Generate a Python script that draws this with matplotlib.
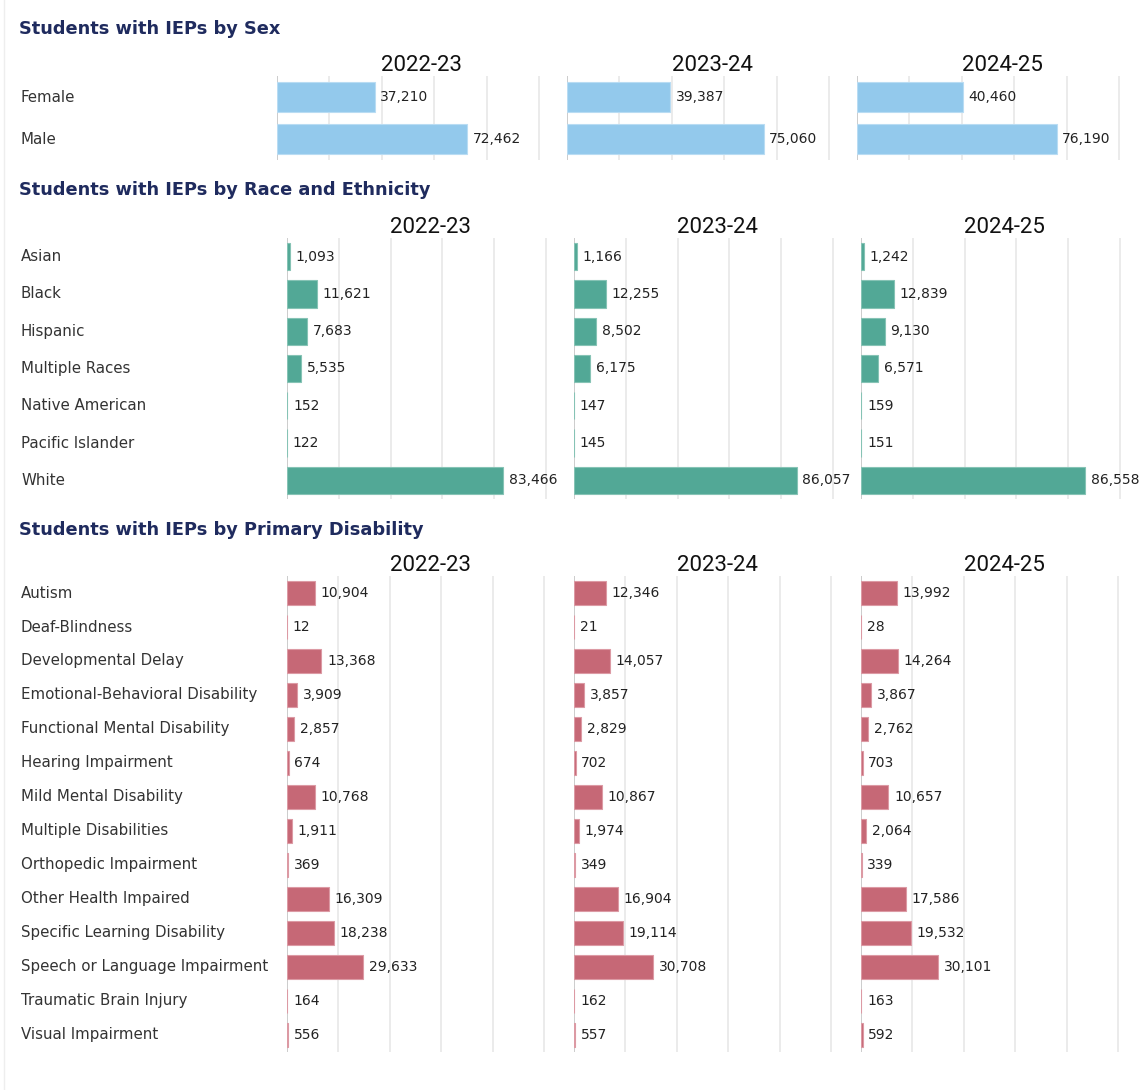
"""
Students with IEPs - three small-multiple bar chart sections
"""

import matplotlib
matplotlib.use('Agg')
import matplotlib.pyplot as plt
from matplotlib.transforms import blended_transform_factory

W, H = 1139, 1090

years = ['2022-23', '2023-24', '2024-25']

sex_labels = ['Female', 'Male']
sex_2223 = [37210, 72462]
sex_2324 = [39387, 75060]
sex_2425 = [40460, 76190]

race_labels = ['Asian', 'Black', 'Hispanic', 'Multiple Races',
               'Native American', 'Pacific Islander', 'White']
race_2223 = [1093, 11621, 7683, 5535, 152, 122, 83466]
race_2324 = [1166, 12255, 8502, 6175, 147, 145, 86057]
race_2425 = [1242, 12839, 9130, 6571, 159, 151, 86558]

dis_labels = ['Autism', 'Deaf-Blindness', 'Developmental Delay',
              'Emotional-Behavioral Disability', 'Functional Mental Disability',
              'Hearing Impairment', 'Mild Mental Disability',
              'Multiple Disabilities', 'Orthopedic Impairment',
              'Other Health Impaired', 'Specific Learning Disability',
              'Speech or Language Impairment', 'Traumatic Brain Injury',
              'Visual Impairment']
dis_2223 = [10904, 12, 13368, 3909, 2857, 674, 10768, 1911, 369,
            16309, 18238, 29633, 164, 556]
dis_2324 = [12346, 21, 14057, 3857, 2829, 702, 10867, 1974, 349,
            16904, 19114, 30708, 162, 557]
dis_2425 = [13992, 28, 14264, 3867, 2762, 703, 10657, 2064, 339,
            17586, 19532, 30101, 163, 592]

TITLE_COLOR = '#1f2b5e'
LABEL_COLOR = '#333333'
VALUE_COLOR = '#222222'
YEAR_FONT = ['Roboto', 'DejaVu Sans']

fig = plt.figure(figsize=(W / 100, H / 100), dpi=100)
fig.patch.set_facecolor('white')


def px_axes(x, y_top, w, h):
    """axes from pixel box (top-left origin)"""
    return fig.add_axes([x / W, 1 - (y_top + h) / H, w / W, h / H])


def draw_section(title, title_y, labels, series, color, edge,
                 x0s, panel_w, ax_top, ax_h, year_pad, xmax):
    fig.text(19 / W, 1 - title_y / H, title, fontsize=12.8, fontweight='bold',
             color=TITLE_COLOR, va='center', ha='left')
    n = len(labels)
    for k, (x0, vals, yr) in enumerate(zip(x0s, series, years)):
        ax = px_axes(x0, ax_top, panel_w, ax_h)
        ax.barh(range(n), vals, height=0.73, color=color, edgecolor=edge,
                linewidth=0.8, zorder=2)
        ax.set_xticks(range(0, 120001, 20000))
        ax.set_yticks([])
        ax.set_xlim(0, xmax)
        ax.set_ylim(n - 0.5, -0.5)
        ax.tick_params(axis='x', length=0, labelbottom=False)
        ax.grid(axis='x', color='#ebebeb', linewidth=1.4, zorder=0)
        ax.axvline(0, color='#c8c8c8', linewidth=1.2, zorder=1)
        ax.set_axisbelow(True)
        for s in ax.spines.values():
            s.set_visible(False)
        ax.set_facecolor('none')
        ax.set_title(yr, fontsize=16, family=YEAR_FONT, color='#111111',
                     pad=year_pad)
        for i, v in enumerate(vals):
            ax.annotate(f'{v:,}', xy=(v, i), xytext=(4, 0),
                        textcoords='offset points', va='center', ha='left',
                        fontsize=10, color=VALUE_COLOR, zorder=3)
        if k == 0:
            tr = blended_transform_factory(fig.transFigure, ax.transData)
            for i, lab in enumerate(labels):
                ax.text(21 / W, i, lab, transform=tr, ha='left', va='center',
                        fontsize=10.8, color=LABEL_COLOR)


# 按性别
draw_section('Students with IEPs by Sex', 29, sex_labels,
             [sex_2223, sex_2324, sex_2425], '#93c9ec', '#b9dcf3',
             [277, 567, 857], 290, 76, 84, 2, 110600)

# 按种族
draw_section('Students with IEPs by Race and Ethnicity', 190, race_labels,
             [race_2223, race_2324, race_2425], '#52a896', '#86c3b5',
             [287, 574, 861], 287, 238, 261, 2, 110900)

# 按主要残疾类型
draw_section('Students with IEPs by Primary Disability', 530, dis_labels,
             [dis_2223, dis_2324, dis_2425], '#c66876', '#dc9aa4',
             [287, 574, 861], 287, 576, 476, 2, 111500)

# faint page border on the left
fig.add_artist(plt.Line2D([4 / W, 4 / W], [0, 1], color='#eeeeee',
                          linewidth=1, transform=fig.transFigure))

plt.savefig('out.png', dpi=100)
plt.close()
